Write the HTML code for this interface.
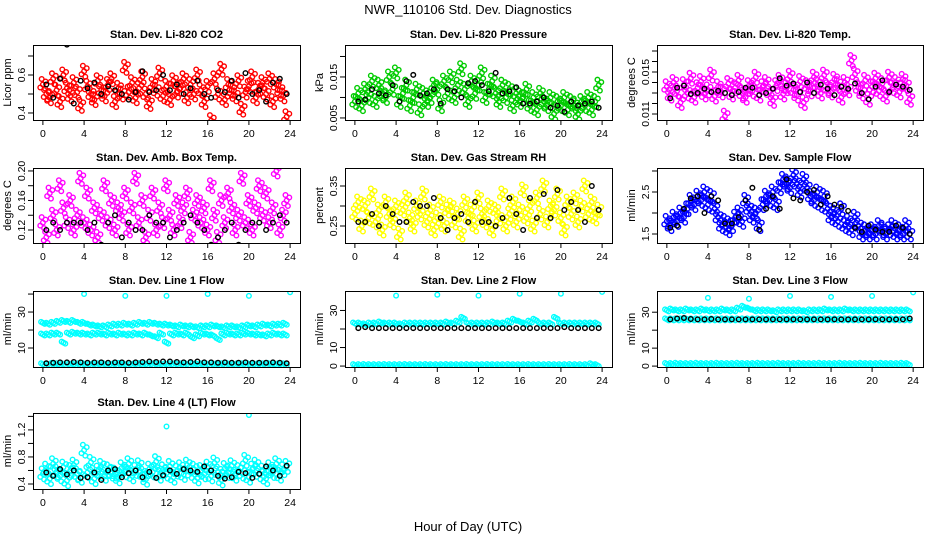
<!DOCTYPE html>
<html><head><meta charset="utf-8"><style>
html,body{margin:0;padding:0;background:#fff;}
svg{display:block;font-family:"Liberation Sans",sans-serif;}
</style></head><body>
<svg id="chart" width="936" height="540" viewBox="0 0 936 540" xmlns="http://www.w3.org/2000/svg">
<text x="468" y="14" text-anchor="middle" font-size="13">NWR_110106  Std. Dev. Diagnostics</text>
<text x="468" y="531" text-anchor="middle" font-size="13">Hour of Day (UTC)</text>
</svg>
<script>
// ---- data ----
const xTicks=[0,4,8,12,16,20,24];
const co2Red=[0.55,0.50,0.48,0.58,0.52,0.46,0.60,0.53,0.49,0.56,0.51,0.44,0.62,0.54,0.50,0.47,0.57,0.52,0.49,0.55,0.58,0.46,0.53,0.50,
0.64,0.51,0.56,0.48,0.53,0.59,0.50,0.45,0.55,0.52,0.61,0.49,0.54,0.47,0.57,0.51,0.53,0.58,0.48,0.55,0.50,0.60,0.52,0.46,
0.54,0.36,0.58,0.50,0.63,0.47,0.55,0.52,0.49,0.57,0.42,0.51,0.54,0.59,0.48,0.53,0.56,0.50,0.58,0.46,0.55,0.52,0.49,0.38];
const co2Black=[0.55,0.48,0.58,0.76,0.45,0.57,0.53,0.56,0.50,0.54,0.52,0.50,0.47,0.51,0.62,0.51,0.52,0.60,0.52,0.55,0.50,0.53,0.57,0.50,0.48,0.52,0.51,0.57,0.48,0.61,0.50,0.52,0.46,0.56,0.58,0.50];
const presGreen=[.009,.011,.008,.012,.010,.014,.009,.013,.011,.010,.015,.012,
.016,.009,.011,.013,.008,.010,.012,.007,.011,.009,.010,.013,
.012,.008,.014,.011,.015,.010,.013,.017,.012,.009,.014,.011,
.013,.016,.010,.012,.014,.011,.009,.013,.010,.012,.008,.011,
.009,.010,.012,.008,.010,.007,.011,.009,.008,.010,.006,.009,
.008,.010,.007,.009,.008,.006,.009,.008,.010,.007,.009,.013];
const presBlack=[.0090,.0095,.0120,.0110,.0105,.0130,.0090,.0140,.0155,.0105,.0110,.0120,.0085,.0120,.0115,.0100,.0135,.0140,.0130,.0115,.0160,.0110,.0115,.0125,.0085,.0085,.0090,.0100,.0075,.0080,.0065,.0090,.0080,.0085,.0090,.0075];
const tempMag=[.0136,.0128,.0140,.0132,.0121,.0138,.0130,.0144,.0126,.0135,.0141,.0129,
.0133,.0147,.0127,.0136,.0131,.0108,.0139,.0129,.0135,.0142,.0130,.0126,
.0137,.0132,.0145,.0128,.0136,.0140,.0131,.0123,.0137,.0142,.0129,.0135,
.0146,.0133,.0128,.0141,.0121,.0137,.0132,.0145,.0138,.0130,.0147,.0135,
.0131,.0143,.0138,.0126,.0140,.0133,.0161,.0148,.0135,.0130,.0142,.0124,
.0136,.0144,.0132,.0139,.0127,.0145,.0135,.0140,.0131,.0143,.0137,.0124];
const tempBlack=[.0125,.0135,.0137,.0129,.0130,.0134,.0131,.0132,.0130,.0128,.0131,.0135,.0135,.0128,.0130,.0134,.0144,.0137,.0139,.0131,.0140,.0130,.0138,.0134,.0128,.0136,.0134,.0139,.0130,.0124,.0136,.0142,.0131,.0138,.0136,.0133];
const ambMag=[.13,.11,.17,.14,.12,.18,.15,.13,.16,.12,.14,.19,.13,.17,.12,.15,.11,.14,.18,.13,.16,.12,.15,.14,
.17,.12,.15,.19,.13,.16,.11,.14,.17,.12,.15,.13,.18,.14,.12,.16,.13,.15,.17,.11,.14,.16,.13,.15,
.12,.18,.14,.11,.16,.13,.17,.15,.12,.14,.19,.13,.16,.12,.15,.18,.14,.17,.13,.15,.20,.12,.14,.16];
const ambBlack=[.12,.13,.12,.13,.13,.13,.12,.13,.10,.13,.14,.11,.13,.12,.12,.14,.13,.13,.11,.12,.13,.14,.13,.12,.10,.11,.12,.13,.10,.12,.13,.13,.12,.13,.14,.13];
const rhYellow=[.28,.31,.25,.30,.27,.33,.26,.29,.24,.31,.28,.26,.30,.23,.29,.32,.27,.25,.30,.28,.33,.26,.29,.24,
.27,.31,.25,.29,.30,.26,.28,.23,.31,.27,.29,.25,.32,.28,.26,.30,.24,.29,.27,.33,.25,.28,.31,.26,
.29,.34,.27,.30,.25,.32,.28,.35,.26,.30,.29,.33,.27,.24,.31,.28,.32,.26,.30,.35,.28,.31,.27,.29];
const rhBlack=[.26,.26,.28,.25,.30,.28,.26,.26,.31,.30,.30,.32,.27,.24,.27,.28,.26,.31,.26,.26,.25,.27,.32,.28,.24,.32,.27,.33,.27,.34,.29,.31,.29,.26,.35,.29];
const flowBlue=[1.8,1.7,1.9,1.8,2.0,1.9,2.1,2.3,2.2,2.4,2.3,2.5,
2.2,2.4,2.1,1.9,1.7,1.8,1.6,1.7,1.9,2.0,1.8,2.3,
2.1,1.9,2.0,1.7,2.2,2.4,2.3,2.5,2.2,2.6,2.8,2.7,
2.6,2.9,2.7,2.5,2.8,2.6,2.4,2.3,2.5,2.2,2.4,2.1,
1.9,2.0,1.8,2.1,1.7,1.8,1.6,1.9,1.7,1.5,1.6,1.5,
1.6,1.5,1.7,1.6,1.5,1.6,1.7,1.5,1.6,1.5,1.7,1.5];
const flowBlack=[1.65,1.7,2.1,2.35,2.4,2.0,2.4,2.3,1.75,1.75,1.9,2.3,2.6,1.6,2.1,2.4,2.1,2.8,2.35,2.3,2.5,2.55,2.2,2.4,2.2,2.15,2.05,1.65,1.55,1.7,1.6,1.55,1.55,1.7,1.65,1.5];
const l1Upper=[24,23.5,24,24.5,25,24.5,25,24,24,23,22.5,22,22,22.5,23,23,23.5,23,23.5,24,23.5,24,23.5,23,23,22.5,22,22.5,22,22,21.5,22,22,22.5,22,21.5,22,22,21.5,22,22.5,22,22.5,23,22.5,23,23,23.5];
const l1Mid=[17.5,17.5,18,18,13,18,18.5,18,18,17.5,18,18,17.5,18,17.5,18,17.5,17.5,18,17.5,18,17,16,18,13,17.5,18,17.5,18,16,17,18,17.5,17,15,17.5,18,17.5,17.5,18,18,17.5,17.5,17,17.5,18,17.5,17.5];
const l1Low=[1,1,1.2,1,1,1.1,1,1,1.2,1,1,1,1.1,1,1,1.2,1,1,1,1.1,1,1,1.2,1,1,1,1.1,1,1,1.2,1,1,1,1.1,1,1,1.2,1,1,1,1.1,1,1,1,1.2,1,1,1];
const l1Black=[1.5,1.8,2,2,2.2,2,1.8,2,2,1.8,2,2,1.8,2,2.2,2.5,2.2,2.5,2.5,2.2,2,2.2,2.5,2,2,1.8,2,1.8,1.8,2,1.8,1.8,1.8,2,1.8,1.5];
const l2Band=[23,23,22.5,23,23,23.5,23,23,23,22.5,23,23,23,23,23,23,23,23,23.5,23,24,26,23,23,23,23,23,23.5,23,23,24,25,24,23,24,25,23,23,23,26,23,23,23,23,23,23,23,23];
const l2Low=[0.5,0.5,0.6,0.5,0.5,0.5,0.6,0.5,0.5,0.5,0.6,0.5,0.5,0.5,0.6,0.5,0.5,0.5,0.6,0.5,0.5,0.5,0.6,0.5,0.5,0.5,0.6,0.5,0.5,0.5,0.6,0.5,0.5,0.5,0.6,0.5,0.5,0.5,0.6,0.5,0.5,0.5,0.6,0.5,0.5,0.5,1,0.5];
const l2Black=[20.5,21,20.5,20.5,20.5,20.5,20.5,20.5,20.5,20.5,20.5,20.5,20.5,20.5,20.5,20.5,20.5,20.5,20.5,20.5,20.5,20.5,20.5,20.5,20.5,20.5,20.5,20.5,20.5,20.5,21,20.5,20.5,20.5,20.5,20.5];
const l3Upper=[31,31.5,31,31,31.5,31,31,31.5,31,31,31,31.5,31,31,32,33,32,31,31,31,31,30.5,31,31,31,31,31,30.5,31,31,31,31.5,31,31,31,31.5,31,31,31,31,31,31,31,31,31,31,31,31];
const l3Mid=[26,26,26,26,26,26,26,26,26,26,26,26,26,26,26,26,26,26,26,26,26,26,26,26,26,26,26,26,26,26,26,26,26,26,26,26,26,26,26,26,26,26,26,26,26,26,26,26];
const l3Low=[1.2,1.2,1.3,1.2,1.2,1.2,1.3,1.2,1.2,1.2,1.3,1.2,1.2,1.2,1.3,1.2,1.2,1.2,1.3,1.2,1.2,1.2,1.3,1.2,1.2,1.2,1.3,1.2,1.2,1.2,1.3,1.2,1.2,1.2,1.3,1.2,1.2,1.2,1.3,1.2,1.2,1.2,1.3,1.2,1.2,1.2,1.3,1.2];
const l3Black=[26,26.5,26.8,26.2,26,26,26.2,26,26,26,26,26,26,26,26,26,26,26,26,26,26,26,26,26,26,26,26,26,26,26,26,26,26,26,26,26.5];
const l4Cyan=[.55,.62,.48,.70,.58,.52,.65,.45,.60,.68,.55,.50,.90,.57,.72,.48,.59,.66,.53,.61,.56,.56,.49,.64,.58,.70,.52,.60,.67,.55,.47,.62,.58,.73,.53,.61,.56,.66,.50,.59,.64,.54,.68,.57,.62,.49,.60,.55,.65,.52,.71,.58,.46,.63,.57,.67,.53,.60,.56,.75,.50,.62,.68,.55,.59,.48,.64,.57,.70,.53,.61,.66];
const l4Black=[.57,.52,.62,.54,.60,.49,.50,.57,.46,.60,.62,.50,.56,.60,.50,.58,.49,.53,.60,.55,.62,.60,.58,.66,.60,.52,.48,.50,.58,.56,.49,.55,.66,.60,.52,.67];
const outHours=[4,8,12,16,20,24];
const l1Out=[40,39,39,40,39,41];
const l2Out=[38,38.5,38,39,39,40];
const l3Out=[38,37.5,39,38.5,39,41];
const l4OutHours=[12,20];
const l4Out=[1.25,1.42];

// ---- layout / glyph styles (pixel offsets for dense-cloud glyphs) ----
const colX=[[33,300],[345,612],[657,923]];
const rowY=[[45,120],[168,243],[291,367],[413,489]];
const cloudGlyph=[[0,0],[-2.6,3],[2.6,-3],[-1.2,-5.5],[1.2,5.5]];
const bandGlyph=[[0,0],[-1.8,-1],[1.8,1]];
const singleGlyph=[[0,0]];
const panels=[
 {name:'co2',title:'Stan. Dev. Li-820 CO2',ylab:'Licor ppm',c:0,r:0,ymin:0.363,ymax:0.758,ticks:[0.4,0.5,0.6,0.7],labels:[0.4,0.6],fmt:v=>v.toFixed(1),
  series:[[co2Red,'#ff0000',3,cloudGlyph],[co2Black,'#000',2,singleGlyph]]},
 {name:'pressure',title:'Stan. Dev. Li-820 Pressure',ylab:'kPa',c:1,r:0,ymin:0.0045,ymax:0.0228,ticks:[0.005,0.01,0.015,0.02],labels:[0.005,0.015],fmt:v=>v.toFixed(3),
  series:[[presGreen,'#00cc00',3,cloudGlyph],[presBlack,'#000',2,singleGlyph]]},
 {name:'temp',title:'Stan. Dev. Li-820 Temp.',ylab:'degrees C',c:2,r:0,ymin:0.01043,ymax:0.01757,ticks:[0.011,0.012,0.013,0.014,0.015,0.016,0.017],labels:[0.011,0.015],fmt:v=>v.toFixed(3),
  series:[[tempMag,'#ff00ff',3,cloudGlyph],[tempBlack,'#000',2,singleGlyph]]},
 {name:'amb-box',title:'Stan. Dev. Amb. Box Temp.',ylab:'degrees C',c:0,r:1,ymin:0.1024,ymax:0.204,ticks:[0.12,0.14,0.16,0.18,0.2],labels:[0.12,0.16,0.2],fmt:v=>v.toFixed(2),
  series:[[ambMag,'#ff00ff',3,cloudGlyph],[ambBlack,'#000',2,singleGlyph]]},
 {name:'rh',title:'Stan. Dev. Gas Stream RH',ylab:'percent',c:1,r:1,ymin:0.2075,ymax:0.395,ticks:[0.25,0.3,0.35],labels:[0.25,0.35],fmt:v=>v.toFixed(2),
  series:[[rhYellow,'#ffff00',3,cloudGlyph],[rhBlack,'#000',2,singleGlyph]]},
 {name:'sample-flow',title:'Stan. Dev. Sample Flow',ylab:'ml/min',c:2,r:1,ymin:1.286,ymax:3.071,ticks:[1.5,2,2.5,3],labels:[1.5,2.5],fmt:v=>v.toFixed(1),
  series:[[flowBlue,'#0000ff',3,cloudGlyph],[flowBlack,'#000',2,singleGlyph]]},
 {name:'line1',title:'Stan. Dev. Line 1 Flow',ylab:'ml/min',c:0,r:2,ymin:-0.56,ymax:41.7,ticks:[10,20,30,40],labels:[10,30],fmt:v=>String(v),
  series:[[l1Upper,'#00ffff',1,bandGlyph],[l1Mid,'#00ffff',1,bandGlyph],[l1Low,'#00ffff',1,bandGlyph],[l1Black,'#000',2,singleGlyph]],out:[outHours,l1Out]},
 {name:'line2',title:'Stan. Dev. Line 2 Flow',ylab:'ml/min',c:1,r:2,ymin:-0.5,ymax:40.5,ticks:[0,10,20,30],labels:[0,10,30],fmt:v=>String(v),
  series:[[l2Band,'#00ffff',1,bandGlyph],[l2Low,'#00ffff',1,bandGlyph],[l2Black,'#000',2,singleGlyph]],out:[outHours,l2Out]},
 {name:'line3',title:'Stan. Dev. Line 3 Flow',ylab:'ml/min',c:2,r:2,ymin:-0.5,ymax:41.8,ticks:[0,10,20,30],labels:[0,10,30],fmt:v=>String(v),
  series:[[l3Upper,'#00ffff',1,bandGlyph],[l3Mid,'#00ffff',1,bandGlyph],[l3Low,'#00ffff',1,bandGlyph],[l3Black,'#000',2,singleGlyph]],out:[outHours,l3Out]},
 {name:'line4',title:'Stan. Dev. Line 4 (LT) Flow',ylab:'ml/min',c:0,r:3,ymin:0.326,ymax:1.45,ticks:[0.4,0.6,0.8,1.0,1.2,1.4],labels:[0.4,0.8,1.2],fmt:v=>v.toFixed(1),
  series:[[l4Cyan,'#00ffff',3,cloudGlyph],[l4Black,'#000',2,singleGlyph]],out:[l4OutHours,l4Out]}
];
const svg=document.getElementById('chart');
const NS='http://www.w3.org/2000/svg';
function mk(tag,attrs,parent){const e=document.createElementNS(NS,tag);for(const k in attrs)e.setAttribute(k,attrs[k]);parent.appendChild(e);return e;}
function hourOf(kind,i){ if(kind===3) return i/3; if(kind===2) return (i+0.5)*2/3; return i/2; }
panels.forEach(p=>{
  const [x0,x1]=colX[p.c],[y0,y1]=rowY[p.r];
  const xs=h=>x0+(h+0.96)/25.92*(x1-x0);
  const ys=v=>y1-(v-p.ymin)/(p.ymax-p.ymin)*(y1-y0);
  const g=mk('g',{},svg);
  
  
  const t=mk('text',{x:(x0+x1)/2,y:y0-7,'text-anchor':'middle','font-size':11,'font-weight':'bold'},g);
  t.textContent=p.title;
  
  
  const yl=mk('text',{x:0,y:0,'text-anchor':'middle','font-size':11,transform:`translate(${x0-22},${(y0+y1)/2}) rotate(-90)`},g);
  yl.textContent=p.ylab;
  
  
  const clip=mk('svg',{x:x0,y:y0,width:x1-x0,height:y1-y0,viewBox:`${x0} ${y0} ${x1-x0} ${y1-y0}`,overflow:'hidden'},g);
  p.series.forEach(s=>{
    const [arr,col,kind,glyph]=s;
    arr.forEach((v,i)=>{
      const cx=xs(hourOf(kind,i)),cy=ys(v);
      const pg=mk('g',{},clip);
      
      
      glyph.forEach(o=>{
        mk('circle',{cx:cx+o[0],cy:cy+o[1],r:2.3,fill:'none',stroke:col,'stroke-width':1.4},pg);
      });
    });
  });
  if(p.out){
    p.out[0].forEach((h,i)=>{
      const c=mk('circle',{cx:xs(h),cy:ys(p.out[1][i]),r:2.3,fill:'none',stroke:'#00ffff','stroke-width':1.4},clip);
      
      
    });
  }
  const box=mk('rect',{x:x0+0.5,y:y0+0.5,width:x1-x0,height:y1-y0,fill:'none',stroke:'#000','stroke-width':1},g);
  
  
  xTicks.forEach(h=>{
    const X=xs(h);
    mk('line',{x1:X,x2:X,y1:y1+0.5,y2:y1+5,stroke:'#000'},g);
    const tl=mk('text',{x:X,y:y1+17,'text-anchor':'middle','font-size':10.5},g);
    tl.textContent=h;
    
    
  });
  p.ticks.forEach(v=>{
    const Y=ys(v);
    mk('line',{x1:x0-5,x2:x0+0.5,y1:Y,y2:Y,stroke:'#000'},g);
  });
  p.labels.forEach(v=>{
    const Y=ys(v);
    const tl=mk('text',{x:0,y:0,'text-anchor':'middle','font-size':10.5,transform:`translate(${x0-8},${Y}) rotate(-90)`},g);
    tl.textContent=p.fmt(v);
    
    
  });
});
</script>
</body></html>
